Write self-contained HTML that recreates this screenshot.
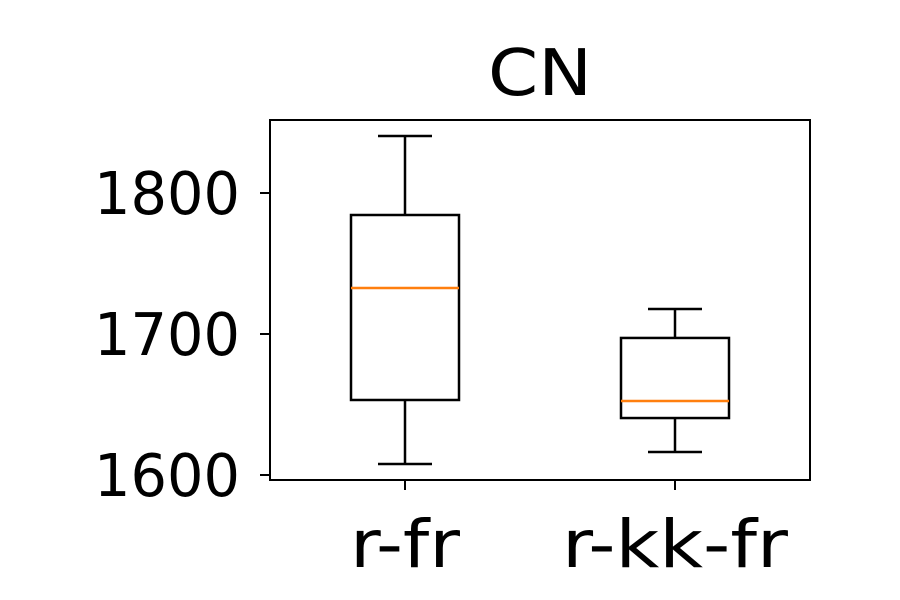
<!DOCTYPE html>
<html><head><meta charset="utf-8"><style>
body{margin:0;background:#fff;}
svg{display:block;font-family:"DejaVu Sans","Liberation Sans",sans-serif;}
</style></head><body>
<svg id="chart" width="900" height="600">
<rect width="900" height="600" fill="#fff"/>
<text x="540" y="95" font-size="64" text-anchor="middle" textLength="104" lengthAdjust="spacingAndGlyphs" fill="#000">CN</text>
<g id="plot"></g>
<rect x="270" y="120" width="540" height="360" fill="none" stroke="#000" stroke-width="2"/>
</svg>
<script>
const categories=["r-fr","r-kk-fr"];
const whiskerLow=[1607.8,1616.3];
const q1=[1653.2,1640.4];
const median=[1732.6,1652.5];
const q3=[1784.4,1697.2];
const whiskerHigh=[1840.4,1717.7];
const yTicks=[1600,1700,1800];
const NS="http://www.w3.org/2000/svg";
const g=document.getElementById('plot');
function y(v){return 475-(v-1600)*1.41;}
function x(i){return 405+i*270;}
function mk(tag,attrs){const e=document.createElementNS(NS,tag);for(const k in attrs)e.setAttribute(k,attrs[k]);g.appendChild(e);return e;}
yTicks.forEach(t=>{
  const l=mk('line',{x1:260,x2:270,y1:y(t),y2:y(t),stroke:'#000','stroke-width':2});
  
  
  const tx=mk('text',{x:240,y:y(t)+21,'font-size':59,'text-anchor':'end',textLength:146,lengthAdjust:'spacingAndGlyphs'});
  tx.textContent=t;
  
  
});
categories.forEach((c,i)=>{
  const cx=x(i);
  const tm=mk('line',{x1:cx,x2:cx,y1:480,y2:490,stroke:'#000','stroke-width':2});
  
  
  const tl=mk('text',{x:cx,y:567,'font-size':66,'text-anchor':'middle',textLength:c.length>5?226:110,lengthAdjust:'spacingAndGlyphs'});
  tl.textContent=c;
  
  
  const w1=mk('line',{x1:cx,x2:cx,y1:y(whiskerHigh[i]),y2:y(q3[i]),stroke:'#000','stroke-width':2.5});
  
  
  const w2=mk('line',{x1:cx,x2:cx,y1:y(q1[i]),y2:y(whiskerLow[i]),stroke:'#000','stroke-width':2.5});
  
  
  const c1=mk('line',{x1:cx-27,x2:cx+27,y1:y(whiskerHigh[i]),y2:y(whiskerHigh[i]),stroke:'#000','stroke-width':2.5});
  
  
  const c2=mk('line',{x1:cx-27,x2:cx+27,y1:y(whiskerLow[i]),y2:y(whiskerLow[i]),stroke:'#000','stroke-width':2.5});
  
  
  const b=mk('rect',{x:cx-54,y:y(q3[i]),width:108,height:y(q1[i])-y(q3[i]),fill:'none',stroke:'#000','stroke-width':2.5});
  
  
  const m=mk('line',{x1:cx-54,x2:cx+54,y1:y(median[i]),y2:y(median[i]),stroke:'#ff7f0e','stroke-width':2.5});
  
  
});
</script>
</body></html>
